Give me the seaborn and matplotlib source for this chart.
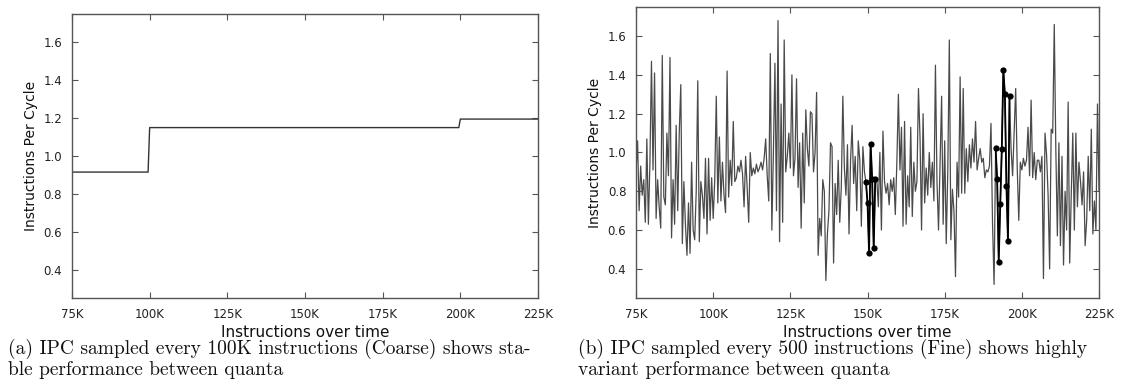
import matplotlib
matplotlib.use('Agg')
import matplotlib.pyplot as plt
import numpy as np
import pandas as pd
import seaborn as sns

# Coarse IPC (one value per 100K quantum, held as steps)
coarse_x = [75000, 99500, 100000, 199500, 200000, 225000]
coarse_ipc = [0.915, 0.915, 1.15, 1.15, 1.195, 1.195]

# Fine IPC, one sample every 500 instructions from 75K
fine_step = 500
fine_start = 75000
fine_ipc = [
    0.90, 1.06, 0.70, 0.93, 0.78, 0.86, 0.64, 1.07, 0.63, 0.95,
    1.47, 0.91, 1.41, 0.66, 0.86, 0.72, 0.61, 1.50, 0.77, 0.73,
    1.10, 0.88, 1.49, 0.56, 0.86, 0.63, 1.14, 0.70, 1.10, 1.35,
    0.53, 0.85, 0.63, 0.47, 0.74, 0.48, 0.95, 0.60, 0.55, 0.80,
    1.37, 0.54, 0.85, 0.78, 0.66, 0.97, 0.58, 0.97, 0.65, 0.87,
    0.66, 0.86, 1.29, 0.74, 1.08, 0.75, 0.95, 0.78, 0.69, 1.42,
    0.77, 0.96, 0.83, 1.16, 0.85, 0.87, 0.93, 0.90, 0.96, 0.89,
    0.72, 0.98, 0.82, 0.64, 1.00, 0.88, 0.92, 0.89, 0.94, 0.90,
    0.92, 0.95, 0.91, 0.97, 1.07, 0.88, 0.75, 1.51, 0.60, 1.00,
    1.46, 0.70, 1.68, 0.54, 1.25, 0.64, 1.58, 0.90, 0.98, 1.10,
    0.92, 1.40, 0.88, 0.97, 1.38, 0.82, 1.05, 0.61, 1.10, 0.74,
    1.22, 1.02, 0.93, 1.21, 1.20, 0.90, 1.00, 1.31, 0.47, 0.66,
    0.57, 0.86, 0.80, 0.34, 0.58, 0.70, 1.05, 1.03, 0.43, 0.84,
    0.68, 0.96, 0.64, 0.82, 1.29, 0.92, 0.78, 1.04, 0.58, 0.96,
    1.14, 0.84, 0.98, 0.70, 1.06, 0.96, 0.62, 1.03, 0.90,
    0.846, 0.739, 0.48, 1.046, 0.863, 0.506, 0.863,
    0.86, 0.72, 1.00, 0.60, 1.11, 0.85, 0.79, 0.84, 0.73, 0.86, 0.80, 0.87,
    0.68, 0.95, 1.30, 0.91, 1.13, 0.62, 1.16, 0.63, 0.88, 0.72,
    1.13, 0.67, 0.95, 0.80, 0.85, 1.33, 1.08, 0.60, 1.20, 0.74,
    0.92, 0.78, 1.00, 0.82, 0.95, 0.75, 1.45, 0.85, 0.60, 0.95,
    1.29, 0.63,
    1.06, 0.53, 0.90, 1.58, 0.55, 0.81, 0.70, 0.36, 0.95, 0.77,
    1.39, 0.79, 1.33, 0.79, 1.02, 0.85, 1.04, 0.92, 1.07, 0.95,
    1.16, 0.91, 0.97, 1.02, 0.95, 0.97, 0.87, 0.91, 0.90, 0.93,
    1.15, 0.63, 0.32,
    1.022, 0.861, 0.436, 0.733, 1.02, 1.424, 1.302, 0.828, 0.545, 1.29,
    1.02, 0.88, 1.10, 1.33, 0.92, 0.65, 0.95,
    0.91, 0.97, 0.93, 0.96, 1.13, 0.88, 1.27, 0.87, 1.00, 0.86,
    0.96, 0.96, 0.90, 0.98, 0.35, 1.10, 0.99, 0.78, 0.40, 1.12,
    1.10, 1.66, 1.02, 0.57, 1.05, 0.52, 0.98, 0.42, 0.80, 0.60,
    1.26, 0.43, 0.78, 1.10, 0.60, 1.10, 0.72, 0.95, 0.85, 0.73,
    0.90, 0.52, 0.65, 0.98, 0.70, 1.12, 0.58, 0.75, 0.60, 1.25,
    0.80,
]

# highlighted windows of fine samples (start instruction, number of samples)
highlights = [(149500, 7), (191500, 10)]

xtick_vals = [75000, 100000, 125000, 150000, 175000, 200000, 225000]
xtick_labels = ['75K', '100K', '125K', '150K', '175K', '200K', '225K']
ytick_vals = [0.4, 0.6, 0.8, 1.0, 1.2, 1.4, 1.6]

captions = [
    '(a) IPC sampled every 100K instructions (Coarse) shows sta-\nble performance between quanta',
    '(b) IPC sampled every 500 instructions (Fine) shows highly\nvariant performance between quanta',
]

df_coarse = pd.DataFrame({'instr': coarse_x, 'ipc': coarse_ipc})
df_fine = pd.DataFrame({'instr': fine_start + fine_step * np.arange(len(fine_ipc)), 'ipc': fine_ipc})

sns.set_theme(style='white')
plt.rcParams['font.family'] = ['DejaVu Sans']

fig = plt.figure(figsize=(11.37, 3.89), dpi=100)
ax1 = fig.add_axes([0.0633, 0.234, 0.4099, 0.730])
ax2 = fig.add_axes([0.5594, 0.234, 0.4072, 0.748])

sns.lineplot(data=df_coarse, x='instr', y='ipc', ax=ax1, color='#333333', lw=1.0, estimator=None, sort=False)
sns.lineplot(data=df_fine, x='instr', y='ipc', ax=ax2, color='#4a4a4a', lw=0.9, estimator=None, sort=False)

for start, n in highlights:
    sub = df_fine[(df_fine['instr'] >= start) & (df_fine['instr'] < start + n * fine_step)]
    sns.lineplot(data=sub, x='instr', y='ipc', ax=ax2, color='black', lw=1.3,
                 marker='o', markersize=4.5, markeredgewidth=0, estimator=None, sort=False)

for ax in (ax1, ax2):
    ax.set_xlim(75000, 225000)
    ax.set_ylim(0.25, 1.75)
    ax.set_xticks(xtick_vals)
    ax.set_xticklabels(xtick_labels)
    ax.set_yticks(ytick_vals)
    ax.set_yticklabels([f'{v:.1f}' for v in ytick_vals])
    ax.tick_params(direction='in', length=4, width=0.8, color='#555555',
                   top=True, right=True, bottom=True, left=True,
                   labelsize=8.5, labelcolor='#222222', pad=7)
    for s in ax.spines.values():
        s.set_color('#555555')
        s.set_linewidth(1.0)
    ax.set_xlabel('Instructions over time', fontsize=11, color='#111111', labelpad=3)
    ax.set_ylabel('Instructions Per Cycle', fontsize=10, color='#111111', labelpad=4)

fig.text(8 / 1137, 0.078, captions[0], family=['cmr10', 'DejaVu Serif'], fontsize=14,
         va='center', ha='left', linespacing=1.12, color='#111111')
fig.text(578 / 1137, 0.078, captions[1], family=['cmr10', 'DejaVu Serif'], fontsize=14,
         va='center', ha='left', linespacing=1.12, color='#111111')

fig.savefig('out.png', dpi=100)
